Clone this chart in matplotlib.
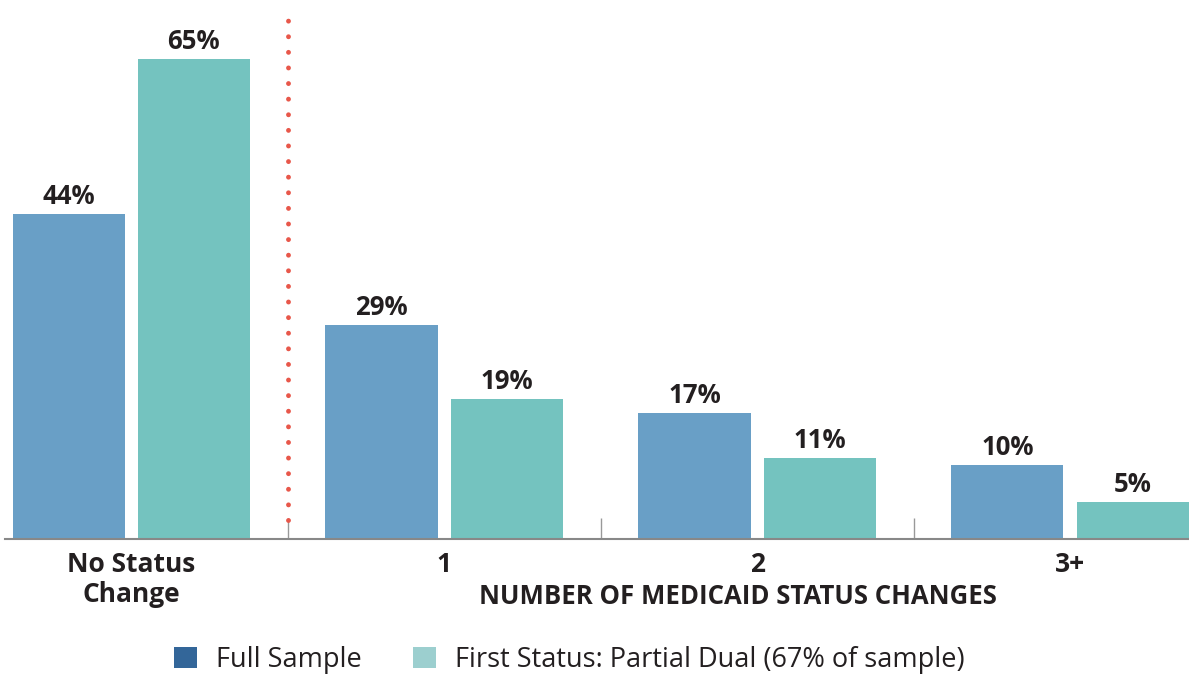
import matplotlib
matplotlib.use("Agg")
import matplotlib.pyplot as plt
from matplotlib.patches import Patch
import numpy as np

plt.rcParams["font.family"] = ["Open Sans", "DejaVu Sans"]

categories = ["No Status\nChange", "1", "2", "3+"]
full_sample = [44, 29, 17, 10]
partial_dual = [65, 19, 11, 5]
series_names = ["Full Sample", "First Status: Partial Dual (67% of sample)"]

bar_colors = ["#699fc6", "#74c3bf"]
legend_colors = ["#336699", "#9ccfcf"]
text_color = "#231f20"

fig = plt.figure(figsize=(11.89, 6.75), dpi=100)
ax = fig.add_axes([5 / 1189, 136 / 675, 1 - 5 / 1189, 1 - 136 / 675])

x = np.arange(len(categories))
w = 0.358
b1 = ax.bar(x - 0.2, full_sample, w, color=bar_colors[0])
b2 = ax.bar(x + 0.2, partial_dual, w, color=bar_colors[1])
for bars in (b1, b2):
    ax.bar_label(bars, fmt="%d%%", padding=3, fontsize=18.5, fontweight="bold", color=text_color)

# dotted divider between "no change" and the rest
ax.plot([0.5, 0.5], [2.6, 70.8], linestyle=(0, (0.01, 3.2)), dash_capstyle="round",
        color="#e8574a", linewidth=3.5)

ax.set_xlim(-0.403, 3.38)
ax.set_ylim(0, 73.0)
ax.set_yticks([])
ax.set_xticks(x)
ax.set_xticklabels(categories, fontsize=19, fontweight="bold", color=text_color, linespacing=1.1)
ax.tick_params(axis="x", which="major", length=0, pad=9)
ax.set_xticks([0.5, 1.5, 2.5], minor=True)
ax.tick_params(axis="x", which="minor", direction="in", length=15, width=1, color="#999999")
for s in ["top", "right", "left"]:
    ax.spines[s].set_visible(False)
ax.spines["bottom"].set_color("#888888")
ax.spines["bottom"].set_linewidth(1.5)

fig.text(738 / 1189, 1 - 597 / 675, "NUMBER OF MEDICAID STATUS CHANGES", ha="center", va="center",
         fontsize=18.5, fontweight="bold", color=text_color)

handles = [Patch(facecolor=c) for c in legend_colors]
fig.legend(handles, series_names, loc="center", bbox_to_anchor=(0.479, 1 - 660 / 675), ncol=2,
           frameon=False, fontsize=19.5, handlelength=0.85, handleheight=0.85, handletextpad=0.7,
           columnspacing=1.9, labelcolor=text_color)

fig.savefig("out.png", dpi=100)
